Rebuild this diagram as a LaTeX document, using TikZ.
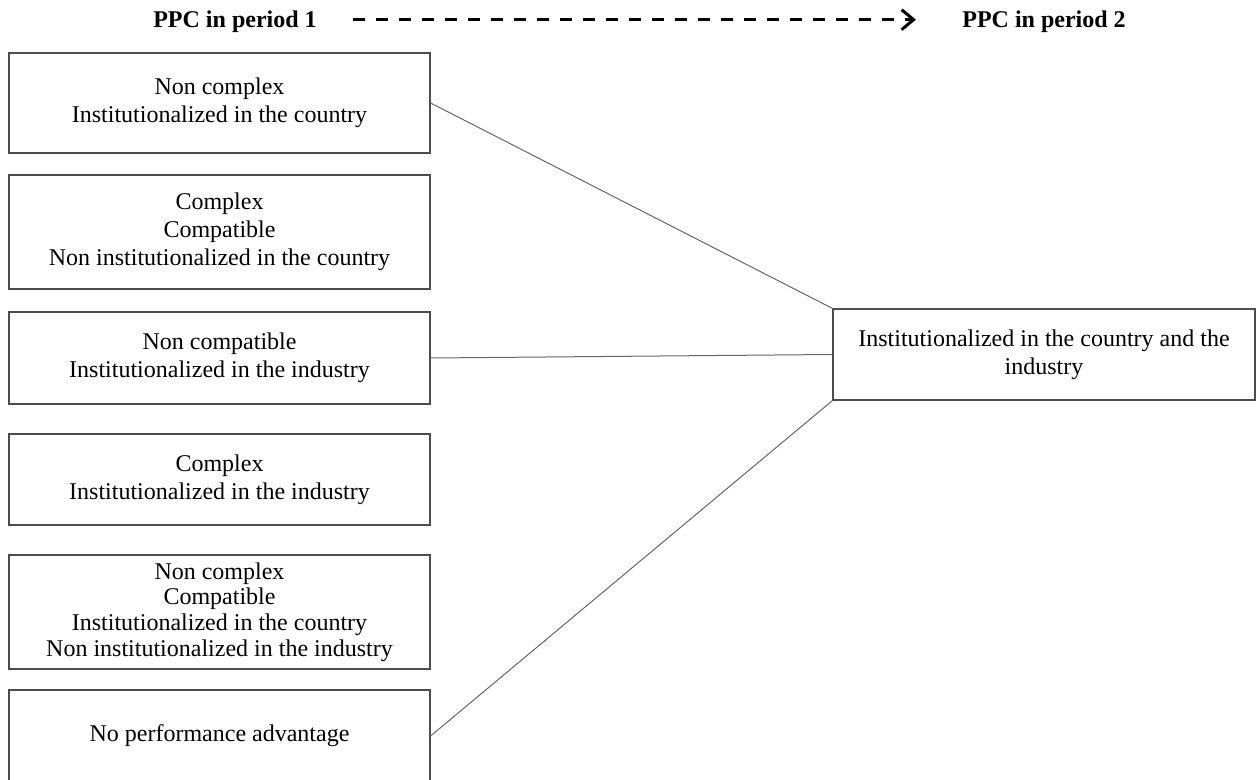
\documentclass[tikz,border=0pt]{standalone}
\usepackage{fontspec}
\setmainfont{Liberation Serif}
\usetikzlibrary{arrows.meta}

\begin{document}
\begin{tikzpicture}[x=0.5pt, y=-0.5pt,
	ppcbox/.style={draw=black!70, line width=0.6pt, minimum width=210.5pt, align=center, font=\fontsize{12}{14}\selectfont},
	header/.style={font=\fontsize{12}{14}\selectfont\bfseries, inner sep=0pt, text depth=0pt, anchor=base},
	link/.style={draw=black!60, line width=0.5pt}]
	\useasboundingbox (0,0) rectangle (1257,780);
	\node[header] (p1) at (235,28) {PPC in period 1};
	\node[header] (p2) at (1044,28) {PPC in period 2};
	\draw[line width=1.5pt, dash pattern=on 6pt off 5.5pt, -{Straight Barb[length=6pt,width=10pt]}, shorten <=18pt, shorten >=23pt] (p1.east) -- (p2.west);
	\node[ppcbox, minimum height=50pt] (b1) at (219.5,103) {Non complex\\Institutionalized in the country};
	\node[ppcbox, minimum height=57pt] (b2) at (219.5,232) {Complex\\Compatible\\Non institutionalized in the country};
	\node[ppcbox, minimum height=46pt] (b3) at (219.5,358) {Non compatible\\Institutionalized in the industry};
	\node[ppcbox, minimum height=45.5pt] (b4) at (219.5,479.5) {Complex\\Institutionalized in the industry};
	\node[ppcbox, minimum height=57pt, font=\fontsize{12}{12.8}\selectfont] (b5) at (219.5,612) {Non complex\\Compatible\\Institutionalized in the country\\Non institutionalized in the industry};
	\node[ppcbox, minimum height=46pt] (b6) at (219.5,736) {No performance advantage};
	\node[ppcbox, minimum width=211pt, minimum height=45.5pt] (out) at (1044,354.5) {Institutionalized in the country and the\\industry};
	\draw[link] (b1.east) -- (out.north west);
	\draw[link] (b3.east) -- (out.west);
	\draw[link] (b6.east) -- (out.south west);
\end{tikzpicture}
\end{document}
